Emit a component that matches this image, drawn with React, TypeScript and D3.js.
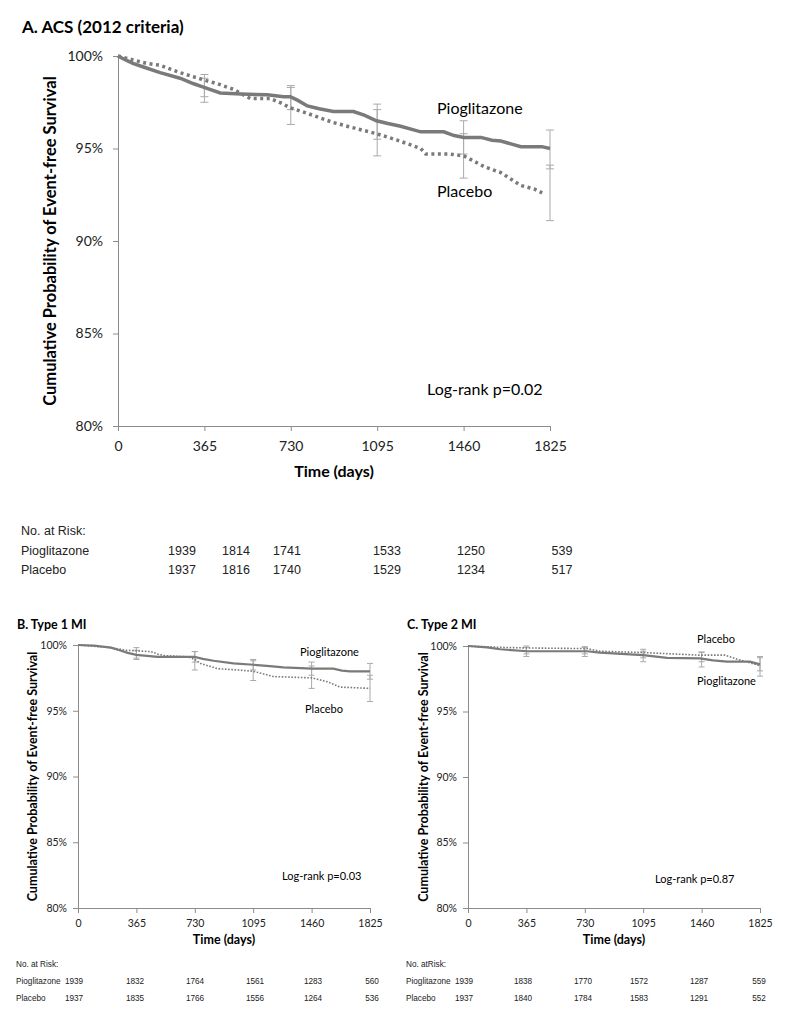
import React, { useRef, useEffect } from "react";
import * as d3 from "d3";

// shared axis values
const DAYS = [0, 365, 730, 1095, 1460, 1825];
const PCT_TICKS = [80, 85, 90, 95, 100];

// A. ACS (2012 criteria) - [day, % event-free]
const acsPio: [number, number][] = [
  [0, 100], [30, 99.8], [63, 99.6], [120, 99.35], [178, 99.1], [262, 98.8], [320, 98.5],
  [364, 98.3], [432, 98.0], [520, 97.95], [630, 97.9], [700, 97.8], [728, 97.8], [760, 97.6],
  [800, 97.3], [850, 97.15], [910, 97.0], [995, 97.0], [1040, 96.8], [1092, 96.5], [1140, 96.35],
  [1194, 96.2], [1279, 95.9], [1376, 95.9], [1420, 95.7], [1461, 95.6], [1533, 95.6], [1580, 95.45],
  [1617, 95.4], [1660, 95.25], [1702, 95.1], [1790, 95.1], [1825, 95.0],
];
const acsPla: [number, number][] = [
  [0, 100], [60, 99.8], [120, 99.6], [178, 99.5], [262, 99.1], [364, 98.7], [420, 98.5],
  [487, 98.2], [559, 97.7], [644, 97.7], [690, 97.45], [728, 97.2], [800, 96.9], [910, 96.4],
  [1000, 96.1], [1092, 95.8], [1180, 95.45], [1279, 95.0], [1300, 94.7], [1400, 94.7], [1461, 94.6],
  [1550, 94.0], [1617, 93.7], [1702, 93.0], [1760, 92.8], [1792, 92.6],
];
const acsPioCI: [number, number][] = [[98.8, 97.8], [98.4, 97.1], [97.4, 95.5], [96.5, 94.7], [96.0, 93.9]];
const acsPlaCI: [number, number][] = [[99.0, 97.5], [98.3, 96.3], [97.1, 94.6], [95.8, 93.4], [94.1, 91.1]];
const acsRiskPio = [1939, 1814, 1741, 1533, 1250, 539];
const acsRiskPla = [1937, 1816, 1740, 1529, 1234, 517];

// B. Type 1 MI
const t1Pio: [number, number][] = [
  [0, 100], [100, 99.95], [206, 99.8], [260, 99.6], [311, 99.4], [365, 99.25], [498, 99.1],
  [729, 99.1], [780, 98.95], [847, 98.8], [972, 98.6], [1096, 98.5], [1200, 98.4], [1283, 98.3],
  [1463, 98.2], [1595, 98.2], [1650, 98.05], [1700, 98.0], [1825, 98.0],
];
const t1Pla: [number, number][] = [
  [0, 100], [206, 99.8], [300, 99.6], [455, 99.5], [500, 99.3], [536, 99.2], [685, 99.1],
  [730, 98.9], [766, 98.6], [872, 98.2], [1000, 98.1], [1096, 98.0], [1160, 97.8], [1221, 97.6],
  [1463, 97.5], [1560, 97.2], [1638, 96.8], [1825, 96.7],
];
const t1PioCI: [number, number][] = [[99.6, 98.9], [99.5, 98.7], [98.9, 98.1], [98.7, 97.7], [98.6, 97.4]];
const t1PlaCI: [number, number][] = [[99.8, 99.0], [99.5, 98.1], [98.8, 97.3], [98.4, 96.7], [97.7, 95.7]];
const t1RiskPio = [1939, 1832, 1764, 1561, 1283, 560];
const t1RiskPla = [1937, 1835, 1766, 1556, 1264, 536];

// C. Type 2 MI
const t2Pio: [number, number][] = [
  [0, 100], [119, 99.9], [200, 99.75], [369, 99.6], [744, 99.6], [825, 99.5], [1094, 99.3],
  [1244, 99.1], [1450, 99.05], [1531, 98.9], [1619, 98.8], [1762, 98.8], [1825, 98.6],
];
const t2Pla: [number, number][] = [
  [0, 100], [200, 99.9], [369, 99.85], [743, 99.8], [825, 99.6], [1094, 99.5], [1450, 99.3],
  [1606, 99.3], [1681, 99.0], [1794, 98.6], [1825, 98.5],
];
const t2PioCI: [number, number][] = [[99.9, 99.2], [99.9, 99.2], [99.6, 98.8], [99.5, 98.4], [99.1, 98.1]];
const t2PlaCI: [number, number][] = [[100, 99.4], [99.95, 99.4], [99.75, 99.1], [99.55, 98.8], [99.2, 97.7]];
const t2RiskPio = [1939, 1838, 1770, 1572, 1287, 559];
const t2RiskPla = [1937, 1840, 1784, 1583, 1291, 552];

const FONT = "Lato, 'Open Sans', sans-serif";
const TFONT = "'Liberation Sans', Arial, sans-serif";
const AXIS = "#8c8c8c";
const CURVE = "#7a7a7a";
const BAR = "#aaaaaa";

type Spec = {
  title: string; titleX: number; titleY: number; titleSize: number;
  left: number; right: number; top: number; bottom: number;
  tickFont: number; xPad: number; yPad: number;
  xTitleY: number; xTitleSize: number;
  yTitleX: number; yTitleSize: number;
  pio: [number, number][]; pla: [number, number][];
  pioCI: [number, number][]; plaCI: [number, number][];
  lineW: number; dotW: number; dash: string; cap: number;
  labelSize: number;
  pioLabel: [number, number]; plaLabel: [number, number];
  logrank: string; logX: number; logY: number;
  riskPio: number[]; riskPla: number[];
  riskText: string; riskX: number; riskCols: number[]; riskRows: number[]; riskSize: number;
};

function Panel({ s }: { s: Spec }) {
  const xRef = useRef<SVGGElement>(null);
  const yRef = useRef<SVGGElement>(null);
  const x = d3.scaleLinear().domain([0, 1825]).range([s.left, s.right]);
  const y = d3.scaleLinear().domain([80, 100]).range([s.bottom, s.top]);

  useEffect(() => {
    const gx = d3.select(xRef.current);
    gx.selectAll("*").remove();
    gx.call(d3.axisBottom(x).tickValues(DAYS).tickSize(5).tickSizeOuter(0).tickPadding(s.xPad).tickFormat(d3.format("d")) as any);
    const gy = d3.select(yRef.current);
    gy.selectAll("*").remove();
    gy.call(d3.axisLeft(y).tickValues(PCT_TICKS).tickSize(5).tickSizeOuter(0).tickPadding(s.yPad).tickFormat((d) => `${d}%`) as any);
    [gx, gy].forEach((g) => {
      g.attr("font-family", FONT).attr("font-size", s.tickFont);
      g.select(".domain").attr("stroke", AXIS);
      g.selectAll(".tick line").attr("stroke", AXIS);
      g.selectAll(".tick text").attr("fill", "#222");
    });
  });

  const line = d3.line<[number, number]>().x((d) => x(d[0])).y((d) => y(d[1]));
  const cis = [...s.pioCI, ...s.plaCI].map((c, i) => ({ day: DAYS[(i % 5) + 1], hi: c[0], lo: c[1] }));

  return (
    <g>
      <text x={s.titleX} y={s.titleY} fontFamily={FONT} fontWeight="bold" fontSize={s.titleSize}>{s.title}</text>
      <g ref={xRef} transform={`translate(0,${s.bottom})`} />
      <g ref={yRef} transform={`translate(${s.left},0)`} />
      <text x={(s.left + s.right) / 2} y={s.xTitleY} textAnchor="middle" fontFamily={FONT} fontWeight="bold" fontSize={s.xTitleSize}>Time (days)</text>
      <text transform={`translate(${s.yTitleX},${(s.top + s.bottom) / 2}) rotate(-90)`} textAnchor="middle" fontFamily={FONT} fontWeight="bold" fontSize={s.yTitleSize}>
        Cumulative Probability of Event-free Survival
      </text>
      {cis.map((c, i) => (
        <g key={i} stroke={BAR} strokeWidth={1}>
          <line x1={x(c.day)} x2={x(c.day)} y1={y(c.hi)} y2={y(c.lo)} />
          <line x1={x(c.day) - s.cap} x2={x(c.day) + s.cap} y1={y(c.hi)} y2={y(c.hi)} />
          <line x1={x(c.day) - s.cap} x2={x(c.day) + s.cap} y1={y(c.lo)} y2={y(c.lo)} />
        </g>
      ))}
      <path d={line(s.pla) || ""} fill="none" stroke={CURVE} strokeWidth={s.dotW} strokeDasharray={s.dash} />
      <path d={line(s.pio) || ""} fill="none" stroke={CURVE} strokeWidth={s.lineW} />
      <text x={s.pioLabel[0]} y={s.pioLabel[1]} fontFamily={FONT} fontSize={s.labelSize}>Pioglitazone</text>
      <text x={s.plaLabel[0]} y={s.plaLabel[1]} fontFamily={FONT} fontSize={s.labelSize}>Placebo</text>
      <text x={s.logX} y={s.logY} fontFamily={FONT} fontSize={s.labelSize}>{s.logrank}</text>
      <g fontFamily={TFONT} fontSize={s.riskSize} fill="#222">
        <text x={s.riskX} y={s.riskRows[0]}>{s.riskText}</text>
        <text x={s.riskX} y={s.riskRows[1]}>Pioglitazone</text>
        <text x={s.riskX} y={s.riskRows[2]}>Placebo</text>
        {s.riskPio.map((v, i) => (
          <text key={"p" + i} x={s.riskCols[i]} y={s.riskRows[1]} textAnchor="middle">{v}</text>
        ))}
        {s.riskPla.map((v, i) => (
          <text key={"q" + i} x={s.riskCols[i]} y={s.riskRows[2]} textAnchor="middle">{v}</text>
        ))}
      </g>
    </g>
  );
}

const panelA: Spec = {
  title: "A. ACS (2012 criteria)", titleX: 22, titleY: 33, titleSize: 17,
  left: 118, right: 550, top: 56, bottom: 426,
  tickFont: 14, xPad: 10, yPad: 10,
  xTitleY: 477, xTitleSize: 16, yTitleX: 56, yTitleSize: 16.5,
  pio: acsPio, pla: acsPla, pioCI: acsPioCI, plaCI: acsPlaCI,
  lineW: 3.5, dotW: 3.5, dash: "3,3.5", cap: 4,
  labelSize: 16, pioLabel: [437, 114], plaLabel: [437, 197],
  logrank: "Log-rank p=0.02", logX: 427, logY: 395,
  riskPio: acsRiskPio, riskPla: acsRiskPla,
  riskText: "No. at Risk:", riskX: 21, riskCols: [182, 236, 287, 387, 471, 562], riskRows: [535, 555, 574], riskSize: 12.5,
};

const panelB: Spec = {
  title: "B. Type 1 MI", titleX: 17, titleY: 629, titleSize: 12.5,
  left: 78, right: 370, top: 645, bottom: 908,
  tickFont: 10.5, xPad: 7, yPad: 6,
  xTitleY: 944, xTitleSize: 12.5, yTitleX: 37, yTitleSize: 12.5,
  pio: t1Pio, pla: t1Pla, pioCI: t1PioCI, plaCI: t1PlaCI,
  lineW: 2.2, dotW: 1.6, dash: "1.6,1.6", cap: 3,
  labelSize: 11, pioLabel: [300, 656], plaLabel: [305, 713],
  logrank: "Log-rank p=0.03", logX: 282, logY: 880,
  riskPio: t1RiskPio, riskPla: t1RiskPla,
  riskText: "No. at Risk:", riskX: 16, riskCols: [74, 135, 195, 255, 313, 372], riskRows: [967, 984, 1001], riskSize: 8.2,
};

const panelC: Spec = {
  title: "C. Type 2 MI", titleX: 407, titleY: 629, titleSize: 12.5,
  left: 468, right: 760, top: 646, bottom: 908,
  tickFont: 10.5, xPad: 7, yPad: 6,
  xTitleY: 944, xTitleSize: 12.5, yTitleX: 428, yTitleSize: 12.5,
  pio: t2Pio, pla: t2Pla, pioCI: t2PioCI, plaCI: t2PlaCI,
  lineW: 2.2, dotW: 1.6, dash: "1.6,1.6", cap: 3,
  labelSize: 11, pioLabel: [697, 685], plaLabel: [697, 643],
  logrank: "Log-rank p=0.87", logX: 655, logY: 883,
  riskPio: t2RiskPio, riskPla: t2RiskPla,
  riskText: "No. atRisk:", riskX: 406, riskCols: [464, 523, 583, 639, 699, 759], riskRows: [967, 984, 1001], riskSize: 8.2,
};

export default function App() {
  return (
    <div style={{ position: "absolute", left: 0, top: 0 }}>
      <svg width={800} height={1019} style={{ display: "block", background: "#fff" }}>
        <Panel s={panelA} />
        <Panel s={panelB} />
        <Panel s={panelC} />
      </svg>
    </div>
  );
}
